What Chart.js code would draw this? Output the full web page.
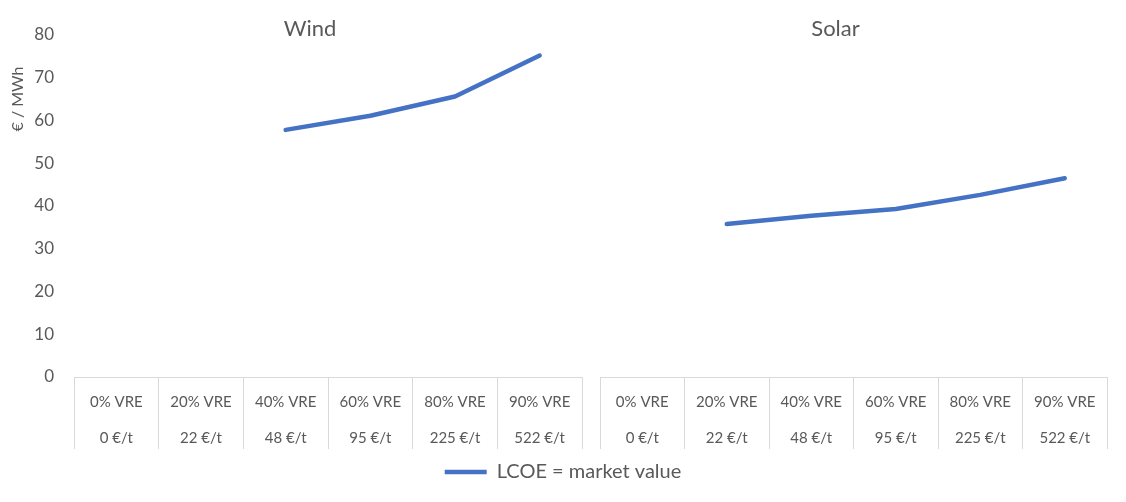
<!DOCTYPE html>
<html>
<head>
<meta charset="utf-8">
<script src="https://cdn.jsdelivr.net/npm/chart.js@4"></script>
<style>
  html, body { margin: 0; padding: 0; background: #fff; }
  #wrap { width: 1126px; height: 502px; }
</style>
</head>
<body>
<div id="wrap"><canvas id="lcoeChart" width="1126" height="502"></canvas></div>
<script>
// categories: share of variable renewables / matching CO2 price
const shareLabels = ['0% VRE', '20% VRE', '40% VRE', '60% VRE', '80% VRE', '90% VRE'];
const co2Prices = ['0 €/t', '22 €/t', '48 €/t', '95 €/t', '225 €/t', '522 €/t'];

// LCOE = market value, €/MWh
const windValues = [null, null, 57.8, 61.1, 65.6, 75.2];
const solarValues = [null, 35.8, 37.7, 39.3, 42.6, 46.5];

const yTicks = [0, 10, 20, 30, 40, 50, 60, 70, 80];
const panelTitles = ['Wind', 'Solar'];
const seriesName = 'LCOE = market value';

const GREY = '#595959';
const LINE_GREY = '#d9d9d9';
const BLUE = '#4472C4';
const FONT = 'Lato, "Open Sans", sans-serif';

const categoryLabels = shareLabels.map((s, i) => [s, co2Prices[i]]);

function categoryAxis(weight) {
    return {
        type: 'category',
        position: 'bottom',
        stack: 'bottom',
        stackWeight: weight,
        labels: categoryLabels,
        offset: true,
        grid: {
            offset: true,
            drawOnChartArea: false,
            drawTicks: true,
            tickLength: 72,
            color: LINE_GREY,
            lineWidth: 1
        },
        border: { display: true, color: LINE_GREY, width: 1 },
        ticks: {
            autoSkip: false,
            maxRotation: 0,
            padding: -65,
            color: GREY,
            font: { family: FONT, size: 15, lineHeight: 2.4 }
        },
        afterFit: (scale) => { scale.height = 75; }
    };
}

// panel titles and the y axis title
const annotations = {
    id: 'annotations',
    afterDraw(chart) {
        const ctx = chart.ctx;
        ctx.save();
        ctx.fillStyle = GREY;
        ctx.textAlign = 'center';
        ctx.textBaseline = 'middle';
        ctx.font = '22px ' + FONT;
        ['xWind', 'xSolar'].forEach((id, i) => {
            const s = chart.scales[id];
            ctx.fillText(panelTitles[i], (s.left + s.right) / 2 - 18, 29);
        });
        ctx.font = '16px ' + FONT;
        ctx.translate(18, chart.chartArea.top + 64);
        ctx.rotate(-Math.PI / 2);
        ctx.fillText('€ / MWh', 0, 0);
        ctx.restore();
    }
};

new Chart(document.getElementById('lcoeChart').getContext('2d'), {
    type: 'line',
    data: {
        datasets: [
            {
                label: seriesName,
                data: windValues,
                xAxisID: 'xWind',
                yAxisID: 'y',
                borderColor: BLUE,
                backgroundColor: BLUE,
                borderWidth: 4.5,
                borderCapStyle: 'round',
                borderJoinStyle: 'round',
                pointRadius: 0,
                tension: 0
            },
            {
                label: seriesName,
                data: solarValues,
                xAxisID: 'xSolar',
                yAxisID: 'y',
                borderColor: BLUE,
                backgroundColor: BLUE,
                borderWidth: 4.5,
                borderCapStyle: 'round',
                borderJoinStyle: 'round',
                pointRadius: 0,
                tension: 0
            }
        ]
    },
    options: {
        responsive: false,
        animation: false,
        devicePixelRatio: 1,
        layout: { padding: { top: 35, right: 0, bottom: 10, left: 0 } },
        scales: {
            xWind: categoryAxis(508),
            xGap: {
                type: 'category',
                position: 'bottom',
                stack: 'bottom',
                stackWeight: 18,
                labels: [''],
                grid: { display: false },
                border: { display: false },
                ticks: { display: false },
                afterFit: (scale) => { scale.height = 75; }
            },
            xSolar: categoryAxis(507),
            y: {
                min: 0,
                max: 80,
                afterBuildTicks: (scale) => { scale.ticks = yTicks.map(v => ({ value: v })); },
                grid: { display: false, drawTicks: false },
                border: { display: false },
                ticks: {
                    padding: 20,
                    color: GREY,
                    font: { family: FONT, size: 17 }
                },
                afterFit: (scale) => { scale.width = 74; }
            },
            // empty right margin so the legend centres on the whole picture
            yRight: {
                type: 'linear',
                position: 'right',
                grid: { display: false, drawTicks: false },
                border: { display: false },
                ticks: { display: false },
                afterFit: (scale) => { scale.width = 19; }
            }
        },
        plugins: {
            legend: {
                position: 'bottom',
                labels: {
                    usePointStyle: true,
                    pointStyle: 'line',
                    pointStyleWidth: 42,
                    color: GREY,
                    font: { family: FONT, size: 20 },
                    filter: (item) => item.datasetIndex === 0
                }
            },
            tooltip: { enabled: false }
        }
    },
    plugins: [annotations]
});
</script>
</body>
</html>
